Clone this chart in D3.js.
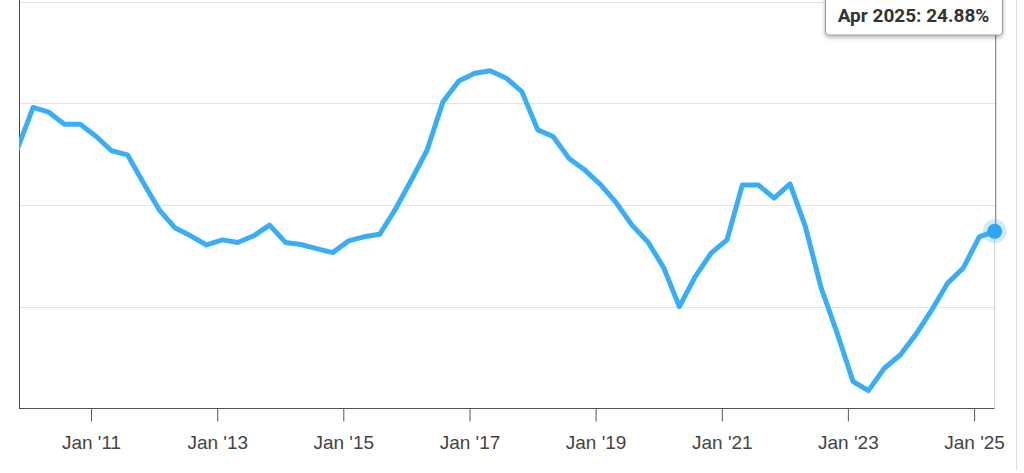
<!DOCTYPE html>
<html>
<head>
<meta charset="utf-8">
<script src="https://cdn.jsdelivr.net/npm/d3@7/dist/d3.min.js"></script>
<style>
  html, body { margin: 0; padding: 0; background: #fff; }
  #chart svg { display: block; font-family: Roboto, "Noto Sans", sans-serif; }
  .grid line { stroke: #e3e3e3; stroke-width: 1; }
  .x-axis text { fill: #444; font-size: 19px; }
  .x-axis line, .x-axis path { stroke: #555; }
  .series { fill: none; stroke: #3aaef5; stroke-width: 5; stroke-linejoin: round; stroke-linecap: round; }
  .tip-label { font-weight: bold; font-size: 19px; fill: #333; }
</style>
</head>
<body>
<div id="chart"></div>
<script>
"use strict";

// Quarterly observations (month of each reading)
var months = [
  "2009-10",
  "2010-01", "2010-04", "2010-07", "2010-10",
  "2011-01", "2011-04", "2011-07", "2011-10",
  "2012-01", "2012-04", "2012-07", "2012-10",
  "2013-01", "2013-04", "2013-07", "2013-10",
  "2014-01", "2014-04", "2014-07", "2014-10",
  "2015-01", "2015-04", "2015-07", "2015-10",
  "2016-01", "2016-04", "2016-07", "2016-10",
  "2017-01", "2017-04", "2017-07", "2017-10",
  "2018-01", "2018-04", "2018-07", "2018-10",
  "2019-01", "2019-04", "2019-07", "2019-10",
  "2020-01", "2020-04", "2020-07", "2020-10",
  "2021-01", "2021-04", "2021-07", "2021-10",
  "2022-01", "2022-04", "2022-07", "2022-10",
  "2023-01", "2023-04", "2023-07", "2023-10",
  "2024-01", "2024-04", "2024-07", "2024-10",
  "2025-01", "2025-04"
];

// Percent values
var values = [
  41.0,
  49.2, 48.3, 45.9, 45.9,
  43.5, 40.7, 39.9, 34.4,
  29.1, 25.6, 24.0, 22.2,
  23.2, 22.7, 24.0, 26.1,
  22.7, 22.3, 21.5, 20.7,
  23.0, 23.8, 24.3, 29.3,
  35.0, 40.8, 50.3, 54.4,
  55.9, 56.4, 55.0, 52.3,
  44.8, 43.5, 39.2, 36.9,
  34.0, 30.5, 26.1, 22.8,
  17.7, 10.1, 16.0, 20.6,
  23.2, 34.0, 34.0, 31.4,
  34.2, 25.8, 13.7, 4.9,
  -4.6, -6.4, -2.0, 0.6,
  4.7, 9.4, 14.7, 17.7,
  23.8, 24.88
];

var tickYears = [2011, 2013, 2015, 2017, 2019, 2021, 2023, 2025];
var gridValues = [10, 30, 50, 70];
var monthNames = ["Jan", "Feb", "Mar", "Apr", "May", "Jun", "Jul", "Aug", "Sep", "Oct", "Nov", "Dec"];

(function () {
  var width = 1024,
      height = 473;

  var plot = { left: 19, right: 995, top: 1.5, bottom: 409 };

  var parseMonth = d3.timeParse("%Y-%m");

  // each reading sits at the end of its month
  var data = months.map(function (m, i) {
    var d = parseMonth(m);
    return {
      month: d,
      date: new Date(d.getFullYear(), d.getMonth() + 1, 0),
      value: values[i]
    };
  });

  var x = d3.scaleTime()
    .domain([new Date(2009, 10, 10), new Date(2025, 4, 2)])
    .range([plot.left, plot.right]);

  var y = d3.scaleLinear()
    .domain([-10, 70])
    .range([plot.bottom, plot.top]);

  var svg = d3.select("#chart").append("svg")
    .attr("width", width)
    .attr("height", height);

  var defs = svg.append("defs");

  defs.append("clipPath")
    .attr("id", "plot-clip")
    .append("rect")
    .attr("x", plot.left)
    .attr("y", -10)
    .attr("width", width - plot.left)
    .attr("height", height + 10);

  var shadow = defs.append("filter")
    .attr("id", "tip-shadow")
    .attr("x", "-10%").attr("y", "-30%")
    .attr("width", "120%").attr("height", "180%");
  shadow.append("feDropShadow")
    .attr("dx", 0).attr("dy", 2)
    .attr("stdDeviation", 2)
    .attr("flood-color", "#000")
    .attr("flood-opacity", 0.3);

  // horizontal grid
  svg.append("g")
    .attr("class", "grid")
    .selectAll("line")
    .data(gridValues)
    .enter().append("line")
      .attr("x1", plot.left)
      .attr("x2", plot.right)
      .attr("y1", function (d) { return Math.round(y(d)) + 0.5; })
      .attr("y2", function (d) { return Math.round(y(d)) + 0.5; });

  // right edge of the page frame
  svg.append("line")
    .attr("x1", 1016.5).attr("x2", 1016.5)
    .attr("y1", 0).attr("y2", 470)
    .attr("stroke", "#dcdcdc");

  // x axis
  var xAxis = d3.axisBottom(x)
    .tickValues(tickYears.map(function (yr) { return new Date(yr, 0, 1); }))
    .tickSize(13)
    .tickFormat(function (d) { return "Jan '" + d3.timeFormat("%y")(d); });

  var gx = svg.append("g")
    .attr("class", "x-axis")
    .attr("transform", "translate(0," + (plot.bottom - 0.5) + ")")
    .call(xAxis);
  gx.select(".domain").remove();
  gx.append("line")
    .attr("x1", plot.left).attr("x2", plot.right)
    .attr("stroke", "#555");
  gx.selectAll(".tick text").attr("y", 40).attr("dy", 0);

  // left axis line
  svg.append("line")
    .attr("x1", plot.left + 0.5).attr("x2", plot.left + 0.5)
    .attr("y1", 0).attr("y2", plot.bottom)
    .attr("stroke", "#444");

  // hover line below the point
  var last = data[data.length - 1];
  var lx = x(last.date),
      ly = y(last.value);

  svg.append("line")
    .attr("x1", lx).attr("x2", lx)
    .attr("y1", ly).attr("y2", plot.bottom)
    .attr("stroke", "#cfcfcf");

  var line = d3.line()
    .x(function (d) { return x(d.date); })
    .y(function (d) { return y(d.value); });

  svg.append("path")
    .datum(data)
    .attr("class", "series")
    .attr("clip-path", "url(#plot-clip)")
    .attr("d", line);

  // tooltip connector
  svg.append("line")
    .attr("x1", lx + 1).attr("x2", lx + 1)
    .attr("y1", 35).attr("y2", ly)
    .attr("stroke", "#888")
    .attr("stroke-width", 1.2);

  svg.append("circle")
    .attr("cx", lx).attr("cy", ly)
    .attr("r", 12)
    .attr("fill", "#3aaef5")
    .attr("fill-opacity", 0.25);
  svg.append("circle")
    .attr("cx", lx).attr("cy", ly)
    .attr("r", 7.5)
    .attr("fill", "#2fa6f2");

  // tooltip box
  var tip = svg.append("g").attr("class", "tip");
  tip.append("rect")
    .attr("x", 825.5).attr("y", -6)
    .attr("width", 177).attr("height", 41)
    .attr("rx", 3)
    .attr("fill", "#fff")
    .attr("stroke", "#9a9a9a")
    .attr("filter", "url(#tip-shadow)");
  tip.append("text")
    .attr("class", "tip-label")
    .attr("x", 913.5).attr("y", 22)
    .attr("text-anchor", "middle")
    .text(monthNames[last.month.getMonth()] + " " + last.month.getFullYear() + ": " + last.value.toFixed(2) + "%");
})();
</script>
</body>
</html>
